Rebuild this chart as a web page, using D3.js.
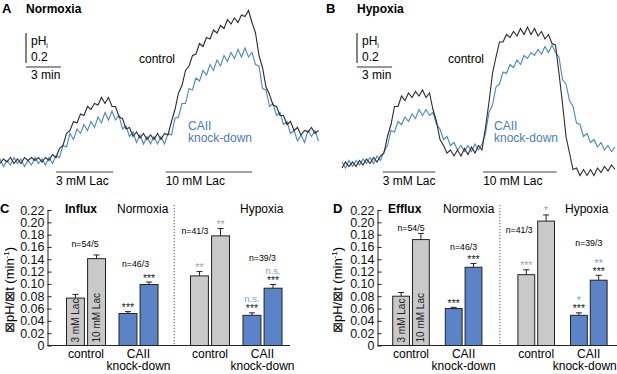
<!DOCTYPE html>
<html>
<head>
<meta charset="utf-8">
<script src="https://cdn.jsdelivr.net/npm/d3@7"></script>
<style>
body { margin: 0; background: #fff; }
svg { display: block; font-family: "Liberation Sans", Arial, Helvetica, sans-serif; }
</style>
</head>
<body>
<div id="fig"></div>
<script>
// pHi recordings (change in pH units), one sample every 0.3 min
const sampleMin = 0.3;
const normCtrl = [-0.01,0.02,0.00,0.03,-0.01,0.02,-0.01,0.03,0.01,0.03,
  0.01,0.03,0.00,0.03,0.01,0.05,0.03,0.09,0.11,0.19,
  0.21,0.27,0.26,0.32,0.31,0.37,0.35,0.39,0.38,0.43,
  0.39,0.43,0.37,0.37,0.30,0.29,0.22,0.23,0.17,0.20,
  0.16,0.19,0.15,0.18,0.15,0.19,0.15,0.19,0.18,0.27,
  0.35,0.46,0.51,0.61,0.64,0.71,0.72,0.79,0.77,0.83,
  0.82,0.88,0.86,0.91,0.89,0.95,0.92,0.96,0.93,0.98,
  0.97,1.01,0.93,0.86,0.71,0.63,0.50,0.45,0.38,0.37,
  0.31,0.31,0.25,0.27,0.21,0.23,0.18,0.21,0.20,0.23,
  0.19,0.21];
const normKd = [0.02,-0.03,0.01,-0.02,0.03,-0.01,0.02,-0.03,0.01,-0.02,
  0.03,-0.01,0.02,-0.02,0.03,-0.01,0.04,0.03,0.11,0.10,
  0.19,0.15,0.22,0.19,0.25,0.21,0.27,0.23,0.30,0.26,
  0.33,0.28,0.34,0.28,0.31,0.22,0.24,0.17,0.20,0.13,
  0.18,0.12,0.17,0.12,0.17,0.12,0.17,0.12,0.19,0.18,
  0.29,0.30,0.39,0.39,0.49,0.48,0.56,0.54,0.61,0.58,
  0.65,0.61,0.68,0.64,0.71,0.67,0.73,0.69,0.75,0.70,
  0.76,0.70,0.73,0.65,0.64,0.49,0.48,0.37,0.39,0.31,
  0.33,0.25,0.27,0.19,0.21,0.14,0.18,0.13,0.21,0.17,
  0.21,0.14];
const hypCtrl = [-0.02,0.02,-0.01,0.02,-0.01,0.03,0.00,0.04,0.01,0.05,
  0.02,0.06,0.08,0.19,0.27,0.39,0.39,0.46,0.43,0.48,
  0.45,0.49,0.46,0.50,0.45,0.48,0.37,0.29,0.17,0.13,
  0.08,0.10,0.06,0.10,0.06,0.11,0.07,0.12,0.08,0.13,
  0.10,0.25,0.42,0.61,0.72,0.82,0.82,0.87,0.85,0.89,
  0.86,0.91,0.87,0.92,0.87,0.91,0.86,0.89,0.84,0.87,
  0.81,0.80,0.61,0.41,0.19,0.08,-0.03,-0.02,-0.07,-0.03,
  -0.07,-0.03,-0.07,-0.02,-0.05,-0.01,-0.04,0.00,-0.03];
const hypKd = [0.02,-0.02,0.03,-0.01,0.03,0.00,0.04,0.01,0.05,0.01,
  0.06,0.03,0.09,0.13,0.23,0.22,0.29,0.27,0.32,0.29,
  0.34,0.31,0.37,0.33,0.37,0.33,0.35,0.27,0.24,0.17,
  0.19,0.13,0.15,0.10,0.13,0.09,0.13,0.09,0.14,0.10,
  0.14,0.21,0.35,0.40,0.52,0.54,0.62,0.61,0.67,0.65,
  0.70,0.67,0.73,0.71,0.75,0.73,0.77,0.74,0.79,0.75,
  0.80,0.75,0.72,0.57,0.54,0.43,0.39,0.28,0.27,0.19,
  0.21,0.15,0.17,0.12,0.15,0.10,0.13,0.09,0.12];

// lactate applications (min)
const lacLabels = ["3 mM Lac", "10 mM Lac"];
const lacNormFrom = [4.8, 14.2], lacNormTo = [9.7, 21.6];
const lacHypFrom = [3.5, 12.1], lacHypTo = [8.0, 18.4];

// transport rates, dpH/dt (min-1)
const groups = ["control", "CAII knock-down", "control", "CAII knock-down"];
const lacLevels = ["3 mM Lac", "10 mM Lac"];
const influx3 = [0.077, 0.052, 0.113, 0.049];
const influx3Err = [0.006, 0.003, 0.007, 0.004];
const influx10 = [0.141, 0.099, 0.178, 0.093];
const influx10Err = [0.006, 0.004, 0.012, 0.006];
const efflux3 = [0.080, 0.060, 0.115, 0.049];
const efflux3Err = [0.006, 0.002, 0.008, 0.004];
const efflux10 = [0.172, 0.127, 0.202, 0.106];
const efflux10Err = [0.010, 0.006, 0.010, 0.008];
const nInflux = ["n=54/5", "n=46/3", "n=41/3", "n=39/3"];
const nEfflux = ["n=54/5", "n=46/3", "n=41/3", "n=39/3"];
// significance: vs control / vs normoxia
const influxSig3 = ["", "***", "**", "***"], influxSig10 = ["", "***", "**", "***"];
const influxHyp3 = ["", "", "", "n.s."], influxHyp10 = ["", "", "", "n.s."];
const effluxSig3 = ["", "***", "***", "***"], effluxSig10 = ["", "***", "*", "***"];
const effluxHyp3 = ["", "", "", "*"], effluxHyp10 = ["", "", "", "**"];
const yTicks = [0, 0.02, 0.04, 0.06, 0.08, 0.10, 0.12, 0.14, 0.16, 0.18, 0.20, 0.22];

const W = 617, H = 374;
const BLACK = "#2b2b2b", BLUE = "#4e86bf", TXTBLUE = "#4a7db3";
const svg = d3.select("#fig").append("svg").attr("width", W).attr("height", H);

function tracePanel(p) {
    let g = svg.append("g");
    let pxPerMin = 35 / 3;
    let n = Math.max(p.ctrl.length, p.kd.length);
    let x = d3.scaleLinear().domain([0, (n - 1) * sampleMin]).range([p.x0, p.x0 + (n - 1) * sampleMin * pxPerMin]);
    let y = d3.scaleLinear().domain([0, 1]).range([p.yBase, p.yBase - 150]);
    let line = d3.line().x((d, i) => x(i * sampleMin)).y(d => y(d));

    g.append("text").attr("x", p.letterX).attr("y", 13).style("font-weight", "bold").style("font-size", "13px").text(p.letter);
    g.append("text").attr("x", p.titleX).attr("y", 13).style("font-weight", "bold").style("font-size", "12px").text(p.title);

    // scale bars
    let sb = g.append("g").attr("transform", `translate(${p.sbX},63)`);
    sb.append("line").attr("x1", 0).attr("x2", 0).attr("y1", 0).attr("y2", y(0.2) - y(0))
        .attr("stroke", "#333").attr("stroke-width", 1.2);
    sb.append("line").attr("x1", 0).attr("x2", x(3) - x(0)).attr("y1", 4).attr("y2", 4)
        .attr("stroke", "#333").attr("stroke-width", 1.2);
    let ph = sb.append("text").attr("x", 5).attr("y", -18).style("font-size", "12px").text("pH");
    ph.append("tspan").attr("dy", 3).style("font-size", "7px").text("i");
    sb.append("text").attr("x", 5).attr("y", -2).style("font-size", "12px").text("0.2");
    sb.append("text").attr("x", 5).attr("y", 16).style("font-size", "12px").text("3 min");

    g.append("path").datum(p.kd).attr("d", line).attr("fill", "none").attr("stroke", BLUE).attr("stroke-width", 1.1);
    g.append("path").datum(p.ctrl).attr("d", line).attr("fill", "none").attr("stroke", BLACK).attr("stroke-width", 1.1);

    g.append("text").attr("x", p.ctrlLabel[0]).attr("y", p.ctrlLabel[1]).style("font-size", "12px").text("control");
    let kd = g.append("text").attr("x", p.kdLabel[0]).attr("y", p.kdLabel[1]).style("font-size", "12px").attr("fill", TXTBLUE);
    kd.append("tspan").attr("x", p.kdLabel[0]).text("CAII");
    kd.append("tspan").attr("x", p.kdLabel[0]).attr("dy", 12).text("knock-down");

    lacLabels.forEach((lab, i) => {
        g.append("line").attr("x1", x(p.lacFrom[i])).attr("x2", x(p.lacTo[i])).attr("y1", 172).attr("y2", 172)
            .attr("stroke", "#444").attr("stroke-width", 1);
        g.append("text").attr("x", x(p.lacFrom[i])).attr("y", 185).style("font-size", "12px").text(lab);
    });
}

tracePanel({x0: 0, yBase: 162, ctrl: normCtrl, kd: normKd, letter: "A", letterX: 2, title: "Normoxia", titleX: 26,
    sbX: 26, ctrlLabel: [139, 63], kdLabel: [188, 130], lacFrom: lacNormFrom, lacTo: lacNormTo});
tracePanel({x0: 342, yBase: 165, ctrl: hypCtrl, kd: hypKd, letter: "B", letterX: 326, title: "Hypoxia", titleX: 357,
    sbX: 357, ctrlLabel: [448, 63], kdLabel: [494, 130], lacFrom: lacHypFrom, lacTo: lacHypTo});

function barPanel(p) {
    let g = svg.append("g");
    let y = d3.scaleLinear().domain([0, 0.22]).range([345.5, 210]);
    let xg = d3.scaleBand().domain(d3.range(4)).range([p.bandStart, p.bandEnd]).paddingInner(p.pad);
    let gx = i => xg(i) + (i >= 2 ? p.shift : 0);
    let xb = d3.scaleBand().domain(lacLevels).range([0, xg.bandwidth()]).paddingInner(0.15);
    let vals = [p.v3, p.v10], errs = [p.e3, p.e10], sig = [p.s3, p.s10], hyp = [p.h3, p.h10];

    g.append("text").attr("x", p.letterX).attr("y", 213).style("font-weight", "bold").style("font-size", "13px").text(p.letter);
    g.append("text").attr("x", p.titleX).attr("y", 213).style("font-weight", "bold").style("font-size", "12px").text(p.title);
    g.append("text").attr("x", p.normX).attr("y", 213).style("font-size", "12px").text("Normoxia");
    g.append("text").attr("x", p.hypX).attr("y", 213).style("font-size", "12px").text("Hypoxia");

    // axis
    let ax = g.append("g").attr("transform", `translate(${p.axisX},0)`)
        .call(d3.axisLeft(y).tickValues(yTicks).tickSize(-4).tickSizeOuter(0).tickPadding(3)
            .tickFormat(d => d === 0 ? "0" : d3.format(".2f")(d)));
    ax.select(".domain").attr("stroke", "#222");
    ax.selectAll(".tick line").attr("stroke", "#222");
    ax.selectAll("text").style("font-size", "12.5px").attr("fill", "#111")
        .style("font-family", '"Liberation Sans", Arial, sans-serif');
    g.append("line").attr("x1", p.axisX).attr("x2", p.right).attr("y1", y(0)).attr("y2", y(0))
        .attr("stroke", "#222").attr("stroke-width", 1);

    let yl = g.append("text").attr("transform", `translate(${p.labX},290) rotate(-90)`)
        .attr("text-anchor", "middle").style("font-size", "13px").text("\u22A0pH/\u22A0t (min");
    yl.append("tspan").attr("dy", -5).style("font-size", "8px").text("-1");
    yl.append("tspan").attr("dy", 5).text(")");

    // separator
    let sepX = (gx(1) + xg.bandwidth() + gx(2)) / 2;
    g.append("line").attr("x1", sepX).attr("x2", sepX).attr("y1", 205).attr("y2", y(0))
        .attr("stroke", "#555").attr("stroke-dasharray", "1.2,1.8").attr("stroke-width", 1);

    groups.forEach((grp, i) => {
        lacLevels.forEach((lev, k) => {
            let x0 = gx(i) + xb(lev), w = xb.bandwidth(), cx = x0 + w / 2;
            let v = vals[k][i], e = errs[k][i];
            let fill = i % 2 === 0 ? "#c9c9c9" : "#5b84c8";
            g.append("line").attr("x1", cx).attr("x2", cx).attr("y1", y(v)).attr("y2", y(v + e)).attr("stroke", "#222");
            g.append("line").attr("x1", cx - 3).attr("x2", cx + 3).attr("y1", y(v + e)).attr("y2", y(v + e)).attr("stroke", "#222");
            g.append("rect").attr("x", x0).attr("y", y(v)).attr("width", w).attr("height", y(0) - y(v))
                .attr("fill", fill).attr("stroke", "#222").attr("stroke-width", 1);
            if (i === 0) {
                g.append("text").attr("transform", `translate(${cx + 3.5},${y(0) - 3}) rotate(-90)`)
                    .style("font-size", "10px").attr("fill", "#222").text(lev);
            }
            let sy = y(v + e) - 0.5;
            if (sig[k][i]) {
                g.append("text").attr("x", cx).attr("y", sy).attr("text-anchor", "middle").style("font-size", "10.5px")
                    .attr("fill", i === 2 ? "#a3a3a3" : "#222").text(sig[k][i]);
            }
            if (hyp[k][i]) {
                let ns = hyp[k][i] === "n.s.";
                g.append("text").attr("x", cx).attr("y", sy - (ns ? 10.5 : 8)).attr("text-anchor", "middle")
                    .style("font-size", ns ? "9.5px" : "10.5px").attr("fill", "#7c9ed6").text(hyp[k][i]);
            }
        });
        let gc = gx(i) + xg.bandwidth() / 2;
        g.append("text").attr("x", gc + p.nPos[i][0]).attr("y", y(p.nPos[i][1])).attr("text-anchor", "middle")
            .style("font-size", "9.5px").attr("textLength", 27).attr("lengthAdjust", "spacingAndGlyphs").text(p.n[i]);
        let words = grp === "control" ? ["control"] : ["CAII", "knock-down"];
        words.forEach((wd, j) => {
            g.append("text").attr("x", gc + (j === 1 ? p.kdDx[i] : 0)).attr("y", 358 + j * 12).attr("text-anchor", "middle")
                .style("font-size", "12px").text(wd);
        });
    });
}

barPanel({letter: "C", letterX: 0, title: "Influx", titleX: 65, normX: 117, hypX: 240, axisX: 47.5, right: 290, labX: 14,
    bandStart: 66.5, bandEnd: 263, pad: 0.257, shift: 19,
    v3: influx3, e3: influx3Err, v10: influx10, e10: influx10Err,
    s3: influxSig3, s10: influxSig10, h3: influxHyp3, h10: influxHyp10, n: nInflux,
    nPos: [[-1, 0.160], [-3, 0.127], [-15, 0.181], [0, 0.137]], kdDx: [0, 0, 0, 0]});
barPanel({letter: "D", letterX: 333, title: "Efflux", titleX: 388, normX: 443, hypX: 565, axisX: 377.5, right: 617, labX: 342,
    bandStart: 392.7, bandEnd: 587.1, pad: 0.304, shift: 20,
    v3: efflux3, e3: efflux3Err, v10: efflux10, e10: efflux10Err,
    s3: effluxSig3, s10: effluxSig10, h3: effluxHyp3, h10: effluxHyp10, n: nEfflux,
    nPos: [[0, 0.186], [0, 0.155], [-17, 0.183], [0, 0.162]], kdDx: [0, 0, 0, -4]});
</script>
</body>
</html>
